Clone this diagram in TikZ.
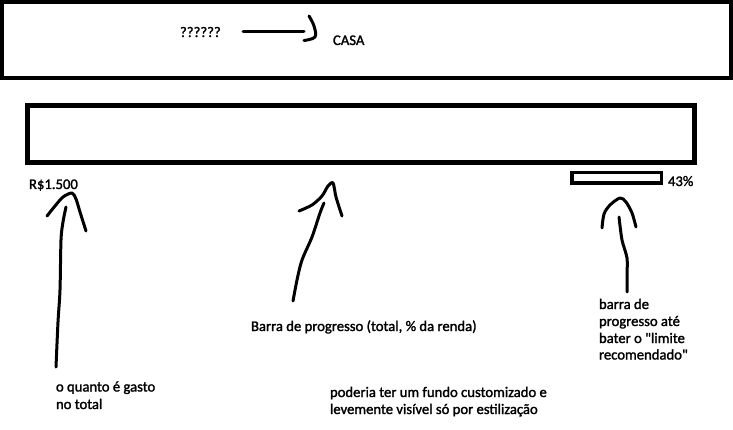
\documentclass[tikz,border=0pt]{standalone}
\usepackage{fontspec}
\setmainfont{Carlito}[Ligatures=TeXOff, FakeBold=1.6]
\begin{document}
\begin{tikzpicture}[x=1pt,y=-1pt,
  every node/.style={inner sep=0pt, outer sep=0pt},
  lbl/.style={font=\fontsize{14.67}{17}\selectfont, anchor=base west},
  box/.style={draw, rectangle, fill=white},
  stroke/.style={line width=3pt, line cap=round, line join=round}]
\useasboundingbox (0,0) rectangle (733,430);
\fill[white] (0,0) rectangle (733,430);
% boxes
\node[box, line width=4pt, minimum width=729pt, minimum height=76pt] (topbox) at (366.5,40) {};
\node[box, line width=5pt, minimum width=667pt, minimum height=57pt] (bar) at (361,134) {};
\node[box, line width=3.5pt, minimum width=89.5pt, minimum height=10.5pt] (small) at (616.5,178) {};
% texts
\node[lbl] (q) at (180,37) {??????};
\node[lbl] (casa) at (333,45) {CASA};
\node[lbl] (rs) at (29,189) {R\$1.500};
\node[lbl] (pct) at (668,186) {43\%};
\node[lbl] (barra) at (251,331) {Barra de progresso (total, \% da renda)};
\node[lbl] (r1) at (599,309) {barra de};
\node[lbl] (r2) at (599,326) {progresso até};
\node[lbl] (r3) at (599,343) {bater o "limite};
\node[lbl] (r4) at (599,359.5) {recomendado"};
\node[lbl] (l1) at (56,391.5) {o quanto é gasto};
\node[lbl] (l2) at (56,409) {no total};
\node[lbl] (b1) at (330,397) {poderia ter um fundo customizado e};
\node[lbl] (b2) at (330,414) {levemente visível só por estilização};
% top arrow
\coordinate (ta) at (243,32);
\coordinate (tb) at (304,32);
\draw[stroke] (ta) -- (tb);
\draw[stroke] plot[smooth, tension=0.6] coordinates {(309,16) (314,26) (315,37) (304,40.5)};
% left arrow
\draw[stroke] plot[smooth, tension=0.5] coordinates {(56,367) (58,322) (60,290) (61,240) (63,222) (66,207)};
\draw[stroke] plot[smooth, tension=0.5] coordinates {(47,216) (55,206) (63,197) (72,193) (76,199) (80,212) (86,231)};
% middle arrow
\draw[stroke] plot[smooth, tension=0.5] coordinates {(293,301) (297,280) (302,260) (312,237) (320,213) (324,203)};
\draw[stroke] plot[smooth, tension=0.5] coordinates {(299,211) (312,205) (322,196) (328,186) (333,183) (336,197) (342,216)};
% right arrow
\draw[stroke] plot[smooth, tension=0.5] coordinates {(619,217) (622,240) (627,258) (627,275) (627,292)};
\draw[stroke] plot[smooth, tension=0.5] coordinates {(602,228) (604,214) (610,205) (620,198) (626,202) (632,213) (636,227)};
\end{tikzpicture}
\end{document}
